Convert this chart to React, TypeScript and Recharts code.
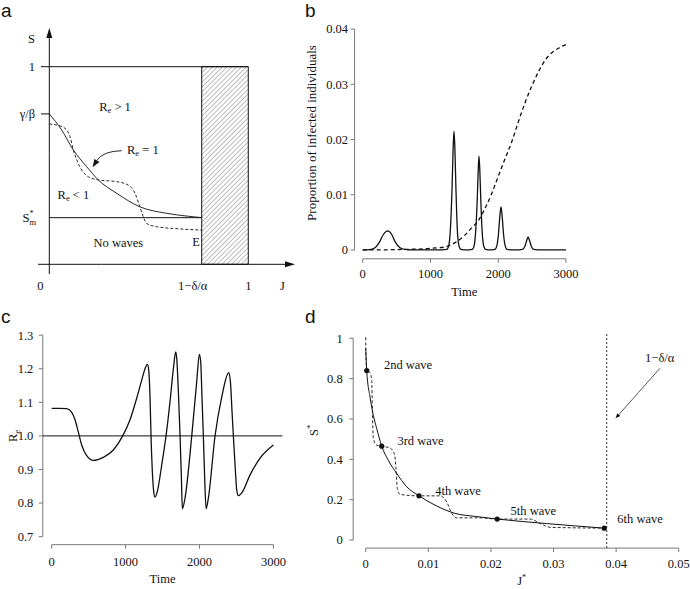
import React from "react";
import {
  ComposedChart,
  Line,
  XAxis,
  YAxis,
  ReferenceLine,
  ReferenceArea,
  ReferenceDot,
} from "recharts";

const FONT = "'Liberation Serif', 'DejaVu Serif', serif";
const INK = "#111";
const AXIS = "#777";

// ---- panel a: the (J, S) plane
const reOneJ = [0, 0.062, 0.121, 0.188, 0.246, 0.339, 0.455, 0.59, 0.7, 0.766];
const reOneS = [0.761, 0.68, 0.578, 0.494, 0.427, 0.359, 0.291, 0.258, 0.243, 0.236];
const pathJ = [0, 0.037, 0.079, 0.104, 0.121, 0.138, 0.163, 0.196, 0.246, 0.339, 0.397, 0.431, 0.455, 0.472, 0.489, 0.54, 0.657, 0.766];
const pathS = [0.71, 0.705, 0.688, 0.646, 0.578, 0.528, 0.477, 0.443, 0.427, 0.418, 0.401, 0.359, 0.291, 0.241, 0.207, 0.19, 0.179, 0.173];
const aXTicks = [0, 0.766, 1, 1.172];
const aXLabels = ["0", "1−δ/α", "1", "J"];
const aYTicks = [0.236, 0.761, 1, 1.14];
const aYLabels = ["S*m", "γ/β", "1", "S"];

// ---- panel b: infected proportion over time
const bTime = [0, 100, 150, 181, 255, 305, 369, 428, 477, 551, 620, 700, 800, 1100,
  1240, 1270, 1295, 1318, 1335, 1347, 1360, 1376, 1395, 1420, 1450, 1530,
  1615, 1645, 1668, 1690, 1705, 1716, 1728, 1743, 1762, 1785, 1815, 1880,
  1950, 1980, 2003, 2022, 2041, 2060, 2079, 2102, 2130, 2250,
  2360, 2395, 2420, 2441, 2462, 2487, 2520, 2650, 3000];
const bInfected = [0, 0.00005, 0.0002, 0.0004, 0.0016, 0.0028, 0.00344, 0.0028, 0.0015, 0.0004, 0.0001, 0.00003, 0, 0,
  0.0001, 0.0008, 0.004, 0.011, 0.0185, 0.0215, 0.0185, 0.011, 0.004, 0.0008, 0.0001, 0,
  0.0001, 0.0008, 0.0035, 0.009, 0.0145, 0.017, 0.0145, 0.009, 0.0035, 0.0008, 0.0001, 0,
  0.0001, 0.0008, 0.0028, 0.0058, 0.0078, 0.0058, 0.0028, 0.0008, 0.0001, 0,
  0.0001, 0.0007, 0.0017, 0.00235, 0.0017, 0.0007, 0.0001, 0, 0];
const bTimeJ = [0, 300, 600, 900, 1100, 1200, 1300, 1400, 1500, 1600, 1700, 1800, 1900, 2000, 2100, 2200, 2300, 2400, 2500, 2600, 2700, 2800, 2900, 3000];
const bJ = [0, 0.00002, 0.0001, 0.0002, 0.0004, 0.0005, 0.0009, 0.0016, 0.0026, 0.0039, 0.0052, 0.0074, 0.0101, 0.0133, 0.0165, 0.0196, 0.0233, 0.0268, 0.0298, 0.0324, 0.0345, 0.0358, 0.0366, 0.0372];
const timeTicks = [0, 1000, 2000, 3000];
const bYTicks = [0, 0.01, 0.02, 0.03, 0.04];

// ---- panel c: effective reproduction number
const cTime = [0, 100, 203, 271, 316, 361, 406, 474, 564, 699, 835, 961, 1060, 1150, 1218, 1263,
  1295, 1313, 1331, 1344, 1362, 1380, 1398, 1430, 1489, 1547, 1600, 1647,
  1678, 1692, 1714, 1737, 1755, 1768, 1804, 1895, 1962,
  1998, 2016, 2034, 2052, 2070, 2089, 2120, 2210, 2300,
  2395, 2418, 2440, 2458, 2486, 2503, 2526, 2571, 2684, 2819, 3000];
const cRe = [1.082, 1.082, 1.081, 1.07, 1.048, 1.011, 0.973, 0.941, 0.927, 0.936, 0.958, 1.0, 1.048, 1.112, 1.166, 1.2,
  1.213, 1.196, 1.112, 1.0, 0.894, 0.835, 0.818, 0.835, 0.914, 1.0, 1.1, 1.201,
  1.25, 1.231, 1.132, 1.0, 0.874, 0.783, 0.815, 1.0, 1.161,
  1.243, 1.221, 1.112, 1.0, 0.874, 0.783, 0.815, 1.0, 1.115,
  1.188, 1.161, 1.072, 1.0, 0.894, 0.84, 0.822, 0.83, 0.884, 0.934, 0.973];
const cYTicks = [0.7, 0.8, 0.9, 1.0, 1.1, 1.2, 1.3];

// ---- panel d: (J*, S*) after each wave
const dCurveJ = [0, 0.00016, 0.00069, 0.00122, 0.00176, 0.00256, 0.00361, 0.00495, 0.00655, 0.00851, 0.01107, 0.01427, 0.0175, 0.021, 0.0289, 0.0381];
const dCurveS = [0.95, 0.84, 0.708, 0.618, 0.552, 0.465, 0.395, 0.33, 0.264, 0.219, 0.173, 0.132, 0.117, 0.104, 0.0815, 0.059];
const dPathJ = [0, 0.00005, 0.00016, 0.00069, 0.00096, 0.00106, 0.00122, 0.00176, 0.00256, 0.00388, 0.00457, 0.00484, 0.00505, 0.00548,
  0.00851, 0.01187, 0.01294, 0.01374, 0.01454, 0.01826, 0.021, 0.02625, 0.02784, 0.02944, 0.0381];
const dPathS = [1.005, 0.898, 0.84, 0.829, 0.791, 0.651, 0.503, 0.47, 0.465, 0.456, 0.428, 0.354, 0.256, 0.226,
  0.219, 0.219, 0.189, 0.132, 0.11, 0.11, 0.104, 0.104, 0.0825, 0.063, 0.059];
const dWaveJ = [0.00016, 0.00256, 0.00851, 0.021, 0.0381];
const dWaveS = [0.84, 0.465, 0.219, 0.104, 0.059];
const waveNames = ["2nd wave", "3rd wave", "4th wave", "5th wave", "6th wave"];
const dXTicks = [0, 0.01, 0.02, 0.03, 0.04, 0.05];
const dYTicks = [0, 0.2, 0.4, 0.6, 0.8, 1];

const zip = (xs: number[], ys: number[], kx: string, ky: string) =>
  xs.map((x, i) => ({ [kx]: x, [ky]: ys[i] }));

const txt = { fontFamily: FONT, fontSize: 12.5, fill: INK };

// serif tick text, placed the way recharts places its own
const bottomTick = (fmt: (v: number) => string = String) => (p: any) => (
  <text x={p.x} y={p.y} dy="0.71em" textAnchor="middle" {...txt}>{fmt(p.payload.value)}</text>
);
const leftTick = (fmt: (v: number) => string = String) => (p: any) => (
  <text x={p.x} y={p.y} dy="0.355em" textAnchor="end" {...txt}>{fmt(p.payload.value)}</text>
);

// line (optionally bent) ending in a filled head
const arrow = (len: number, half: number, bend = 0) => (p: any) => {
  const { x1, y1, x2, y2 } = p;
  const dx = x2 - x1;
  const dy = y2 - y1;
  const d = Math.hypot(dx, dy) || 1;
  const cx = (x1 + x2) / 2 - (dy / d) * bend;
  const cy = (y1 + y2) / 2 + (dx / d) * bend;
  const ang = Math.atan2(y2 - cy, x2 - cx);
  const bx = x2 - len * Math.cos(ang);
  const by = y2 - len * Math.sin(ang);
  const hx = -Math.sin(ang) * half;
  const hy = Math.cos(ang) * half;
  return (
    <g>
      <path d={`M${x1},${y1} Q${cx},${cy} ${bx},${by}`} fill="none" stroke={p.stroke} strokeWidth={p.strokeWidth} />
      <polygon points={`${x2},${y2} ${bx + hx},${by + hy} ${bx - hx},${by - hy}`} fill={p.stroke} />
    </g>
  );
};

const note = (content: React.ReactNode) => (p: any) => (
  <text x={p.cx} y={p.cy} textAnchor="middle" dominantBaseline="central" {...txt}>
    {content}
  </text>
);

const re = (rest: string) => (
  <>
    <tspan>R</tspan>
    <tspan fontSize={8.5} dy={3}>e</tspan>
    <tspan dy={-3}>{rest}</tspan>
  </>
);

const PanelA = () => {
  const curve = zip(reOneJ, reOneS, "J", "S");
  const path = zip(pathJ, pathS, "J", "S");
  return (
    <ComposedChart width={345} height={295} margin={{ top: 20, right: 50, bottom: 1, left: 0 }}>
      <defs>
        <pattern id="hatchA" patternUnits="userSpaceOnUse" width={3.4} height={3.4} patternTransform="rotate(45)">
          <line x1={0} y1={0} x2={0} y2={3.4} stroke="#444" strokeWidth={0.7} />
        </pattern>
      </defs>
      <XAxis type="number" dataKey="J" domain={[-0.0568, 1.2347]} allowDataOverflow ticks={aXTicks} interval={0}
        tickLine={false} axisLine={false} tickSize={0} tickMargin={0} height={20}
        tick={(p: any) => {
          const k = aXTicks.indexOf(p.payload.value);
          const dx = k < 2 ? -9 : 0;
          return <text x={p.x + dx} y={p.y + 16} textAnchor="middle" {...txt}>{aXLabels[k]}</text>;
        }} />
      <YAxis type="number" domain={[-0.0491, 1.2363]} allowDataOverflow ticks={aYTicks} interval={0}
        tickLine={false} axisLine={false} tickSize={0} tickMargin={0} width={38}
        tick={(p: any) => {
          const label = aYLabels[aYTicks.indexOf(p.payload.value)];
          if (label === "S*m") {
            return (
              <text x={p.x - 2} y={p.y} textAnchor="end" dominantBaseline="central" {...txt}>
                <tspan>S</tspan>
                <tspan fontSize={8} dy={-5}>*</tspan>
                <tspan fontSize={8.5} dx={-4} dy={9}>m</tspan>
              </text>
            );
          }
          return <text x={p.x - 3} y={p.y} textAnchor="end" dominantBaseline="central" {...txt}>{label}</text>;
        }} />
      <ReferenceArea x1={0.766} x2={1} y1={0} y2={1} fill="url(#hatchA)" fillOpacity={1} stroke={INK} strokeWidth={1} ifOverflow="visible" />
      <ReferenceLine segment={[{ x: -0.042, y: 1 }, { x: 1, y: 1 }]} stroke={INK} strokeWidth={1} ifOverflow="visible" />
      <ReferenceLine segment={[{ x: -0.042, y: 0.761 }, { x: 0, y: 0.761 }]} stroke={INK} strokeWidth={1} ifOverflow="visible" />
      <ReferenceLine segment={[{ x: 0, y: 0.236 }, { x: 0.766, y: 0.236 }]} stroke={INK} strokeWidth={1} ifOverflow="visible" />
      <ReferenceLine segment={[{ x: 0, y: -0.049 }, { x: 0, y: 1.196 }]} stroke={INK} strokeWidth={1} ifOverflow="visible" shape={arrow(10, 3)} />
      <ReferenceLine segment={[{ x: -0.0568, y: 0 }, { x: 1.2347, y: 0 }]} stroke={INK} strokeWidth={1} ifOverflow="visible" shape={arrow(10, 3)} />
      <Line data={path} dataKey="S" type="monotone" stroke={INK} strokeWidth={0.9} strokeDasharray="3 2" dot={false} activeDot={false} isAnimationActive={false} />
      <Line data={curve} dataKey="S" type="monotone" stroke={INK} strokeWidth={0.9} dot={false} activeDot={false} isAnimationActive={false} />
      <ReferenceLine segment={[{ x: 0.364, y: 0.575 }, { x: 0.218, y: 0.491 }]} stroke={INK} strokeWidth={0.9} ifOverflow="visible" shape={arrow(8, 3, 9)} />
      <ReferenceDot x={0.33} y={0.794} r={0} ifOverflow="visible" shape={note(re(" > 1"))} />
      <ReferenceDot x={0.47} y={0.578} r={0} ifOverflow="visible" shape={note(re(" = 1"))} />
      <ReferenceDot x={0.121} y={0.351} r={0} ifOverflow="visible" shape={note(re(" < 1"))} />
      <ReferenceDot x={0.347} y={0.108} r={0} ifOverflow="visible" shape={note("No waves")} />
      <ReferenceDot x={0.737} y={0.113} r={0} ifOverflow="visible" shape={note("E")} />
    </ComposedChart>
  );
};

const PanelB = () => {
  const infected = zip(bTime, bInfected, "t", "v");
  const cumulative = zip(bTimeJ, bJ, "t", "v");
  return (
    <ComposedChart width={420} height={300} margin={{ top: 20.2, right: 115.9, bottom: 11.2, left: 0 }}>
      <XAxis type="number" dataKey="t" domain={[-120, 3120]} allowDataOverflow ticks={timeTicks} interval={0}
        axisLine={false} tickLine={{ stroke: AXIS }} tickSize={4} tickMargin={6.5} height={30} tick={bottomTick()}
        label={(p: any) => (
          <text x={p.viewBox.x + p.viewBox.width / 2} y={p.viewBox.y + 36.7} textAnchor="middle" {...txt}>Time</text>
        )} />
      <YAxis type="number" domain={[-0.0016, 0.0416]} allowDataOverflow ticks={bYTicks} interval={0}
        axisLine={false} tickLine={{ stroke: AXIS }} tickSize={4} tickMargin={2.5} width={84.6} tick={leftTick()}
        label={(p: any) => {
          const x = p.viewBox.x + 45.7;
          const y = p.viewBox.y + p.viewBox.height / 2 - 6.5;
          return (
            <text x={x} y={y} transform={`rotate(-90 ${x} ${y})`} textAnchor="middle" {...txt} fontSize={13}>
              Proportion of infected individuals
            </text>
          );
        }} />
      <ReferenceLine segment={[{ x: 0, y: -0.0016 }, { x: 3000, y: -0.0016 }]} stroke={AXIS} strokeWidth={1} ifOverflow="visible" />
      <ReferenceLine segment={[{ x: -120, y: 0 }, { x: -120, y: 0.04 }]} stroke={AXIS} strokeWidth={1} ifOverflow="visible" />
      <Line data={cumulative} dataKey="v" type="monotone" stroke={INK} strokeWidth={1.3} strokeDasharray="4 3" dot={false} activeDot={false} isAnimationActive={false} />
      <Line data={infected} dataKey="v" type="monotone" stroke={INK} strokeWidth={1.3} dot={false} activeDot={false} isAnimationActive={false} />
    </ComposedChart>
  );
};

const PanelC = () => {
  const series = zip(cTime, cRe, "t", "v");
  return (
    <ComposedChart width={300} height={289} margin={{ top: 27.1, right: 17.7, bottom: 14.3, left: 0 }}>
      <XAxis type="number" dataKey="t" domain={[-120, 3120]} allowDataOverflow ticks={timeTicks} interval={0}
        axisLine={false} tickLine={{ stroke: AXIS }} tickSize={4} tickMargin={8} height={30} tick={bottomTick()}
        label={(p: any) => (
          <text x={p.viewBox.x + p.viewBox.width / 2} y={p.viewBox.y + 38.3} textAnchor="middle" {...txt}>Time</text>
        )} />
      <YAxis type="number" domain={[0.676, 1.324]} allowDataOverflow ticks={cYTicks} interval={0}
        axisLine={false} tickLine={{ stroke: AXIS }} tickSize={4} tickMargin={5.5} width={42.8}
        tick={leftTick((v: number) => v.toFixed(1))}
        label={(p: any) => {
          const x = p.viewBox.x + 17;
          const y = p.viewBox.y + p.viewBox.height / 2;
          return (
            <text x={x} y={y} transform={`rotate(-90 ${x} ${y})`} textAnchor="middle" {...txt}>
              <tspan>R</tspan>
              <tspan fontSize={8.5} dy={3}>e</tspan>
            </text>
          );
        }} />
      <ReferenceLine segment={[{ x: 0, y: 0.676 }, { x: 3000, y: 0.676 }]} stroke={AXIS} strokeWidth={1} ifOverflow="visible" />
      <ReferenceLine segment={[{ x: -120, y: 0.7 }, { x: -120, y: 1.3 }]} stroke={AXIS} strokeWidth={1} ifOverflow="visible" />
      <ReferenceLine y={1} stroke={INK} strokeWidth={1} />
      <Line data={series} dataKey="v" type="monotone" stroke={INK} strokeWidth={1.3} dot={false} activeDot={false} isAnimationActive={false} />
    </ComposedChart>
  );
};

const PanelD = () => {
  const curve = zip(dCurveJ, dCurveS, "J", "S");
  const path = zip(dPathJ, dPathS, "J", "S");
  const waves = zip(dWaveJ, dWaveS, "J", "S");
  const namePos = [
    [0.00676, 0.868],
    [0.00875, 0.491],
    [0.01474, 0.243],
    [0.02677, 0.144],
    [0.04382, 0.104],
  ];
  return (
    <ComposedChart width={390} height={289} margin={{ top: 30.2, right: 0, bottom: 12.9, left: 0 }}>
      <XAxis type="number" dataKey="J" domain={[-0.002, 0.0518]} allowDataOverflow ticks={dXTicks} interval={0}
        axisLine={false} tickLine={{ stroke: AXIS }} tickSize={4} tickMargin={7} height={28} tick={bottomTick()}
        label={(p: any) => (
          <text x={p.viewBox.x + p.viewBox.width / 2} y={p.viewBox.y + 37} textAnchor="middle" {...txt}>
            <tspan>J</tspan>
            <tspan fontSize={8} dy={-5}>*</tspan>
          </text>
        )} />
      <YAxis type="number" domain={[-0.04, 1.04]} allowDataOverflow ticks={dYTicks} interval={0}
        axisLine={false} tickLine={{ stroke: AXIS }} tickSize={4} tickMargin={6.5} width={53.2} tick={leftTick()}
        label={(p: any) => {
          const x = p.viewBox.x + 18;
          const y = p.viewBox.y + p.viewBox.height / 2 - 9;
          return (
            <text x={x} y={y} transform={`rotate(-90 ${x} ${y})`} textAnchor="middle" {...txt}>
              <tspan>S</tspan>
              <tspan fontSize={9} dy={-5}>*</tspan>
            </text>
          );
        }} />
      <ReferenceLine segment={[{ x: 0, y: -0.04 }, { x: 0.05, y: -0.04 }]} stroke={AXIS} strokeWidth={1} ifOverflow="visible" />
      <ReferenceLine segment={[{ x: -0.002, y: 0 }, { x: -0.002, y: 1 }]} stroke={AXIS} strokeWidth={1} ifOverflow="visible" />
      <ReferenceLine segment={[{ x: 0.0385, y: -0.04 }, { x: 0.0385, y: 1.03 }]} stroke={INK} strokeWidth={0.9} strokeDasharray="2 2" ifOverflow="visible" />
      <Line data={path} dataKey="S" type="monotone" stroke={INK} strokeWidth={0.9} strokeDasharray="3 2" dot={false} activeDot={false} isAnimationActive={false} />
      <Line data={curve} dataKey="S" type="monotone" stroke={INK} strokeWidth={1} dot={false} activeDot={false} isAnimationActive={false} />
      <Line data={waves} dataKey="S" stroke="none" dot={{ r: 2.6, fill: INK, stroke: INK, strokeWidth: 0 }} activeDot={false} isAnimationActive={false} />
      {waveNames.map((name, i) => (
        <ReferenceDot key={name} x={namePos[i][0]} y={namePos[i][1]} r={0} ifOverflow="visible" shape={note(name)} />
      ))}
      <ReferenceDot x={0.04696} y={0.902} r={0} ifOverflow="visible" shape={note("1−δ/α")} />
      <ReferenceLine segment={[{ x: 0.047, y: 0.851 }, { x: 0.0399, y: 0.603 }]} stroke={INK} strokeWidth={0.7} ifOverflow="visible" shape={arrow(5, 2)} />
    </ComposedChart>
  );
};

const letter = (left: number, top: number): React.CSSProperties => ({
  position: "absolute",
  left,
  top,
  fontFamily: "'Liberation Sans', Arial, sans-serif",
  fontSize: 19,
  lineHeight: "22px",
  color: INK,
});

export default function App() {
  return (
    <div style={{ position: "absolute", left: 0, top: 0, width: 690, height: 589, background: "#fff", overflow: "hidden" }}>
      <div style={{ position: "absolute", left: 0, top: 0 }}><PanelA /></div>
      <div style={{ position: "absolute", left: 270, top: 0 }}><PanelB /></div>
      <div style={{ position: "absolute", left: 0, top: 300 }}><PanelC /></div>
      <div style={{ position: "absolute", left: 300, top: 300 }}><PanelD /></div>
      <div style={letter(1, 0)}>a</div>
      <div style={letter(305, 0)}>b</div>
      <div style={letter(1, 306)}>c</div>
      <div style={letter(305, 306)}>d</div>
    </div>
  );
}
